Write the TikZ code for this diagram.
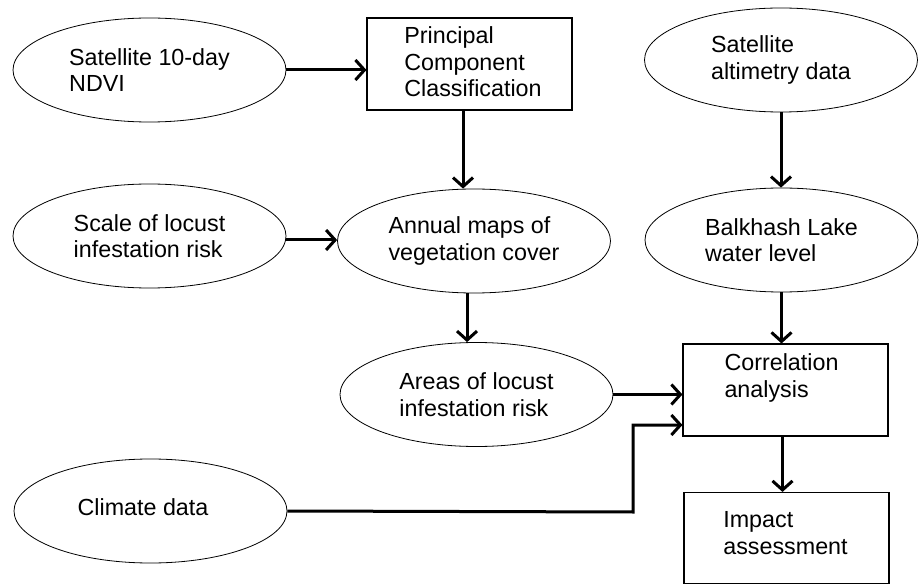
\documentclass[tikz,border=0pt]{standalone}
\usepackage{fontspec}
\setmainfont{Liberation Sans}
\usetikzlibrary{shapes.geometric,arrows.meta}
\begin{document}
\begin{tikzpicture}[x=1pt,y=-1pt,
  every node/.style={font=\fontsize{23.3}{26.5}\selectfont},
  ell/.style={ellipse, draw, line width=0.8pt, minimum width=273pt, minimum height=104pt, inner sep=0pt, align=left},
  boxs/.style={rectangle, draw, line width=1.1pt, minimum width=205pt, minimum height=92pt, inner sep=0pt, align=left},
  txt/.style={inner sep=0pt, align=left},
  arr/.style={line width=3pt, -{Straight Barb[length=9pt,width=20pt]}}]
\fill[white] (0,0) rectangle (921,585);
\useasboundingbox (0,0) rectangle (921,585);

\node[ell] (ndvi) at (149.5,70) {Satellite 10-day\\NDVI};
\node[boxs] (pcc) at (469.5,64) {};
\node[txt] (pccT) at (473,62) {Principal\\Component\\Classification};
\node[ell] (alt) at (781,60) {Satellite\\altimetry data};
\node[ell] (scale) at (149.5,236) {Scale of locust\\infestation risk};
\node[ell] (annual) at (474,241) {Annual maps of\\vegetation cover};
\node[ell] (balk) at (781.5,240) {Balkhash Lake\\water level};
\node[ell] (areas) at (476.5,394.5) {Areas of locust\\infestation risk};
\node[ell] (climate) at (150.5,511) {};
\node[txt] (climateT) at (143,507) {Climate data};
\node[boxs] (corr) at (785.5,390) {};
\node[txt] (corrT) at (781.5,378) {Correlation\\analysis};
\node[boxs, minimum height=91pt] (impact) at (786.5,538) {};
\node[txt] (impactT) at (785.5,533) {Impact\\assessment};

\coordinate (bend) at (633,512);

\draw[arr] (ndvi.east) -- (ndvi.east -| pcc.west);
\draw[arr] ([xshift=-6.5pt]pcc.south) -- ([xshift=-6.5pt]pcc.south |- annual.north);
\draw[arr] (alt.south) -- (alt.south |- balk.north);
\draw[arr] ([yshift=-4pt]scale.east) -- ([yshift=-4pt]scale.east -| annual.west);
\draw[arr] ([xshift=-7pt]annual.south) -- ([xshift=-7pt]annual.south |- areas.north);
\draw[arr] (balk.south) -- (balk.south |- corr.north);
\draw[arr] (areas.east) -- (areas.east -| corr.west);
\draw[arr] (climate.east) -- (bend) |- ([yshift=-35pt]corr.west);
\draw[arr] ([xshift=-3pt]corr.south) -- ([xshift=-3pt]corr.south |- impact.north);
\end{tikzpicture}
\end{document}
